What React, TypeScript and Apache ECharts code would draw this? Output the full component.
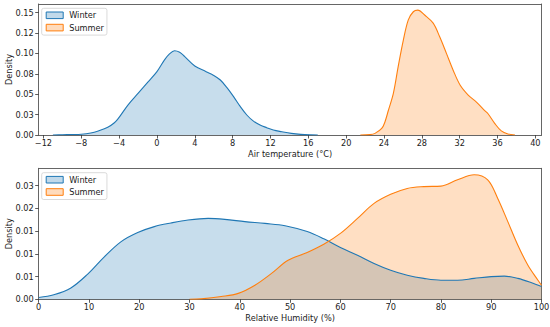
import React, { useEffect, useRef } from "react";
import * as echarts from "echarts";

// ---- Top panel: air temperature KDE ----
const winterTempX = [-11, -10, -9, -8, -7, -6.2, -5.2, -4.5, -4.1, -3.05, -2.0, -0.94, 0, 0.8, 1.3, 1.85, 2.4, 2.94, 4.0, 5.2, 6.0, 6.7, 7.4, 8.1, 8.8, 9.5, 10.2, 10.9, 11.6, 12.3, 13.2, 14.2, 15.2, 16.2, 17];
const winterTempY = [0, 0.0003, 0.0006, 0.001, 0.0025, 0.005, 0.0094, 0.015, 0.02, 0.037, 0.051, 0.065, 0.0776, 0.092, 0.099, 0.1033, 0.1015, 0.096, 0.0846, 0.0776, 0.073, 0.0674, 0.058, 0.047, 0.035, 0.0245, 0.017, 0.0123, 0.009, 0.0061, 0.004, 0.002, 0.0008, 0.0002, 0];
const summerTempX = [21.5, 22.5, 23.05, 23.76, 24.1, 24.46, 24.99, 25.5, 26.04, 26.57, 27.1, 27.57, 28.3, 29.2, 29.9, 30.6, 31.3, 32.04, 32.9, 33.8, 34.68, 35.0, 35.7, 36.4, 37.1, 37.85];
const summerTempY = [0, 0.0005, 0.002, 0.008, 0.016, 0.03, 0.051, 0.0837, 0.116, 0.141, 0.151, 0.153, 0.147, 0.137, 0.12, 0.1, 0.0797, 0.0613, 0.049, 0.04, 0.0296, 0.026, 0.0143, 0.005, 0.0012, 0];
const tempTicks = [-12, -8, -4, 0, 4, 8, 12, 16, 20, 24, 28, 32, 36, 40];
const tempDensityTicks = [0, 0.025, 0.05, 0.075, 0.1, 0.125, 0.15];
const tempDensityLabels = ["0.00", "0.03", "0.05", "0.08", "0.10", "0.12", "0.15"];

// ---- Bottom panel: relative humidity KDE ----
const winterRhX = [0, 3, 6.4, 9.7, 13, 16.4, 19.7, 23, 26.3, 29.7, 33.7, 37, 41, 45, 49, 53.4, 56.7, 60, 63.4, 66.7, 70, 73.3, 76.6, 80, 83.3, 86.6, 90, 92.6, 95.3, 97.9, 100];
const winterRhY = [0.0004, 0.001, 0.0025, 0.0055, 0.0093, 0.0127, 0.0147, 0.016, 0.0168, 0.01745, 0.0178, 0.0176, 0.0171, 0.0167, 0.0162, 0.0149, 0.0133, 0.0114, 0.0097, 0.0079, 0.0064, 0.0053, 0.0046, 0.0042, 0.0042, 0.0046, 0.005, 0.0051, 0.0046, 0.0037, 0.0028];
const summerRhX = [30, 32.3, 36.3, 39.7, 43, 46.3, 49.6, 53.4, 56.7, 60, 63.4, 66.7, 70, 73.3, 76.6, 80, 83.3, 86.6, 89.3, 91.3, 93.3, 95.3, 97.3, 99.3, 100];
const summerRhY = [0, 0.0001, 0.0006, 0.0013, 0.0031, 0.0057, 0.0086, 0.0103, 0.0121, 0.0145, 0.0178, 0.0211, 0.0231, 0.0244, 0.0248, 0.0249, 0.0263, 0.0274, 0.0263, 0.0222, 0.0171, 0.0119, 0.0075, 0.0042, 0.0031];
const rhTicks = [0, 10, 20, 30, 40, 50, 60, 70, 80, 90, 100];
const rhDensityTicks = [0, 0.005, 0.01, 0.015, 0.02, 0.025];
const rhDensityLabels = ["0.00", "0.01", "0.01", "0.01", "0.02", "0.03"];

const seriesNames = ["Winter", "Summer"];
const BLUE = "#1f77b4";
const ORANGE = "#ff7f0e";
const FONT = "DejaVu Sans";
const TXT = "#222";
const FS = 8.2;
const SPINE = "#555";

const zip = (xs: number[], ys: number[]) => xs.map((x, i) => [x, ys[i]]);
const minus = (v: number) => (v < 0 ? "\u2212" + Math.abs(v) : String(v));

function lineSeries(name: string, color: string, idx: number, data: number[][]) {
  return {
    type: "line",
    name,
    xAxisIndex: idx * 2,
    yAxisIndex: idx * 2,
    data,
    smooth: 0.35,
    showSymbol: false,
    symbol: "none",
    lineStyle: { color, width: 1.1 },
    itemStyle: { color },
    areaStyle: { color, opacity: 0.25 },
    emphasis: { disabled: true },
  };
}

function legendFor(top: number) {
  return {
    orient: "vertical",
    left: 41.7,
    top,
    padding: [2, 3, 2.5, 4],
    itemGap: 2.3,
    itemWidth: 17,
    itemHeight: 6.6,
    icon: "rect",
    backgroundColor: "#fff",
    borderColor: "#d0d0d0",
    borderWidth: 0.8,
    borderRadius: 2,
    selectedMode: false,
    textStyle: { fontFamily: FONT, fontSize: FS, color: TXT, lineHeight: 10, padding: [0, 0, 0, 1] },
    data: [
      { name: "Winter", itemStyle: { color: "rgba(31,119,180,0.28)", borderColor: BLUE, borderWidth: 1 } },
      { name: "Summer", itemStyle: { color: "rgba(255,127,14,0.28)", borderColor: ORANGE, borderWidth: 1 } },
    ],
  };
}

const axisLineStyle = { show: true, onZero: false, lineStyle: { color: SPINE, width: 0.9 } };
const tickStyle = { show: true, inside: false, length: 3.5, lineStyle: { color: "#333", width: 0.8 } };
const axisCommon = {
  type: "value",
  axisLine: axisLineStyle,
  splitLine: { show: false },
  nameMoveOverlap: false,
  nameTextStyle: { fontFamily: FONT, fontSize: FS, color: TXT },
};
// frame-only axis (top / right spines)
function frameAxis(gridIndex: number, position: string, min: number, max: number) {
  return {
    type: "value",
    gridIndex,
    position,
    min,
    max,
    axisLine: axisLineStyle,
    axisTick: { show: false },
    axisLabel: { show: false },
    splitLine: { show: false },
  };
}

const TEMP_MIN = -12.5, TEMP_MAX = 40.65, TEMP_DMAX = 0.1605;
const RH_MIN = 0, RH_MAX = 100, RH_DMAX = 0.02883;

export default function App() {
  const ref = useRef<HTMLDivElement>(null);
  useEffect(() => {
    if (!ref.current) return;
    const chart = echarts.init(ref.current, null, { renderer: "svg" });
    const option = {
      animation: false,
      backgroundColor: "#fff",
      textStyle: { fontFamily: FONT },
      grid: [
        { left: 38.7, right: 8.5, top: 4, height: 131, containLabel: false, outerBoundsMode: "none" },
        { left: 38.7, right: 8.5, top: 168.3, height: 131, containLabel: false, outerBoundsMode: "none" },
      ],
      legend: [legendFor(8.3), legendFor(172.7)],
      xAxis: [
        {
          ...axisCommon,
          gridIndex: 0,
          position: "bottom",
          min: TEMP_MIN,
          max: TEMP_MAX,
          name: "Air temperature (\u00b0C)",
          nameLocation: "middle",
          nameGap: 15,
          axisTick: { ...tickStyle, customValues: tempTicks },
          axisLabel: { customValues: tempTicks, formatter: (v: number) => minus(v), fontFamily: FONT, fontSize: FS, color: TXT, margin: 4 },
        },
        frameAxis(0, "top", TEMP_MIN, TEMP_MAX),
        {
          ...axisCommon,
          gridIndex: 1,
          position: "bottom",
          min: RH_MIN,
          max: RH_MAX,
          name: "Relative Humidity (%)",
          nameLocation: "middle",
          nameGap: 15,
          axisTick: { ...tickStyle, customValues: rhTicks },
          axisLabel: { customValues: rhTicks, formatter: (v: number) => String(v), fontFamily: FONT, fontSize: FS, color: TXT, margin: 4 },
        },
        frameAxis(1, "top", RH_MIN, RH_MAX),
      ],
      yAxis: [
        {
          ...axisCommon,
          gridIndex: 0,
          position: "left",
          min: 0,
          max: TEMP_DMAX,
          name: "Density",
          nameLocation: "middle",
          nameGap: 26,
          nameRotate: 90,
          axisTick: { ...tickStyle, customValues: tempDensityTicks },
          axisLabel: {
            customValues: tempDensityTicks,
            formatter: (v: number) => tempDensityLabels[Math.round(v / 0.025)] ?? "",
            fontFamily: FONT, fontSize: FS, color: TXT, margin: 5,
          },
        },
        frameAxis(0, "right", 0, TEMP_DMAX),
        {
          ...axisCommon,
          gridIndex: 1,
          position: "left",
          min: 0,
          max: RH_DMAX,
          name: "Density",
          nameLocation: "middle",
          nameGap: 26,
          nameRotate: 90,
          axisTick: { ...tickStyle, customValues: rhDensityTicks },
          axisLabel: {
            customValues: rhDensityTicks,
            formatter: (v: number) => rhDensityLabels[Math.round(v / 0.005)] ?? "",
            fontFamily: FONT, fontSize: FS, color: TXT, margin: 5,
          },
        },
        frameAxis(1, "right", 0, RH_DMAX),
      ],
      series: [
        lineSeries(seriesNames[0], BLUE, 0, zip(winterTempX, winterTempY)),
        lineSeries(seriesNames[1], ORANGE, 0, zip(summerTempX, summerTempY)),
        lineSeries(seriesNames[0], BLUE, 1, zip(winterRhX, winterRhY)),
        lineSeries(seriesNames[1], ORANGE, 1, zip(summerRhX, summerRhY)),
      ],
    };
    chart.setOption(option as any);
    return () => chart.dispose();
  }, []);
  return <div ref={ref} style={{ position: "fixed", left: 0, top: 0, width: 550, height: 327 }} />;
}
